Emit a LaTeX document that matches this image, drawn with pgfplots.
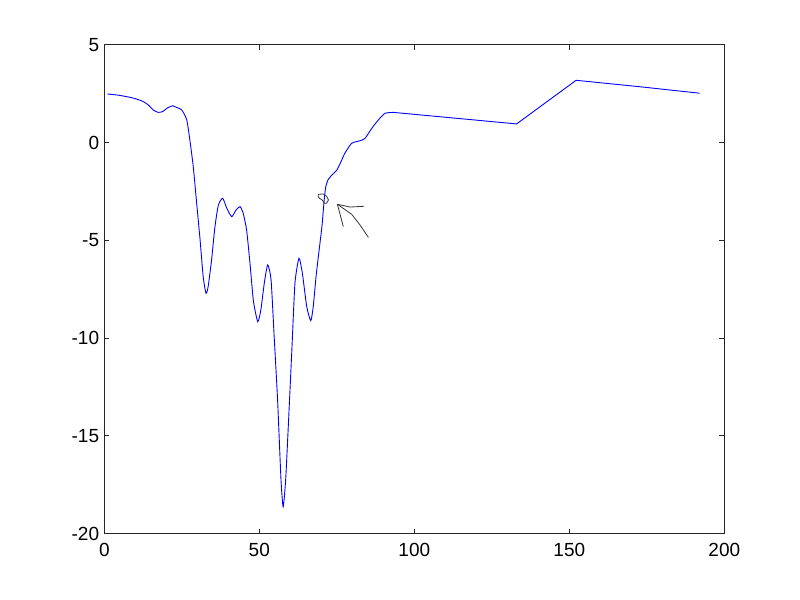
\documentclass[border=0pt]{standalone}
\usepackage{fontspec}
\setmainfont{Liberation Sans}
\usepackage{pgfplots}
\pgfplotsset{compat=1.18}
\usetikzlibrary{calc}

\begin{document}
\begin{tikzpicture}
\begin{axis}[
  scale only axis,
  width=620bp, height=489bp,
  xmin=0, xmax=200, ymin=-20, ymax=5,
  xtick={0,50,100,150,200},
  xticklabels={0,50,100,150,200},
  ytick={-20,-15,-10,-5,0,5},
  yticklabels={-20,-15,-10,-5,0,5},
  tick align=inside,
  major tick length=5bp,
  axis line style={black!85, line width=0.8bp},
  tick style={black!85, line width=0.8bp},
  ticklabel style={font=\fontsize{19bp}{22bp}\selectfont, inner sep=0pt},
  yticklabel style={xshift=-5bp},
  xticklabel style={yshift=-9bp},
]

% measured curve, wavy part
\addplot[color=blue, line width=0.9bp, smooth, tension=0.35] coordinates {
  (1.0,2.48) (4.5,2.42) (8.3,2.31) (10.8,2.20) (12.6,2.09) (14.2,1.92)
  (15.8,1.66) (17.4,1.54) (18.8,1.58) (20.5,1.78) (22.1,1.88) (22.8,1.83)
  (25.0,1.66) (26.6,1.15) (27.6,0.13) (28.7,-1.24) (29.8,-3.11) (30.9,-4.98)
  (31.9,-6.86) (32.8,-7.71) (33.5,-7.37) (34.6,-6.01) (35.7,-4.30)
  (36.8,-3.20) (38.2,-2.85) (39.5,-3.36) (41.1,-3.79) (42.5,-3.45)
  (43.8,-3.28) (44.8,-3.62) (45.9,-4.47) (47.0,-6.18) (48.1,-8.10)
  (49.5,-9.16) (50.5,-8.56) (51.6,-7.20) (52.7,-6.26) (53.8,-7.03)
  (54.8,-9.93) (55.9,-13.16) (57.0,-17.25) (57.7,-18.62) (58.5,-17.25)
  (59.4,-14.36) (60.5,-10.61) (61.5,-7.20) (62.8,-5.92) (63.9,-6.69)
  (65.3,-8.39) (66.6,-9.11) (67.4,-8.39) (68.3,-6.86) (69.3,-5.50)
  (70.2,-4.30) (70.9,-3.00) (71.4,-2.30) (72.2,-1.90) (73.5,-1.65)
  (75.0,-1.41) (76.3,-1.00) (77.6,-0.55) (79.8,-0.04) (82.5,0.09)
  (84.1,0.21) (86.3,0.73) (88.4,1.15) (90.5,1.49) (93.2,1.54)
};
% measured curve, straight part
\addplot[color=blue, line width=0.9bp] coordinates {
  (93.2,1.54) (133.0,0.95) (152.2,3.18) (172.8,2.85) (192.0,2.52)
};

% hand-drawn loop
\addplot[color=black!80, line width=0.8bp] coordinates {
  (69.0,-2.65) (70.6,-2.63) (71.7,-2.74) (72.3,-2.94) (71.7,-3.11)
  (71.0,-3.11) (70.3,-2.94) (69.4,-2.85) (69.0,-2.77) (69.0,-2.65)
};

% hand-drawn arrow
\addplot[color=black!80, line width=0.8bp] coordinates {
  (83.8,-3.26) (79.3,-3.30) (75.2,-3.16) (77.1,-4.30)
};
\addplot[color=black!80, line width=0.8bp] coordinates {
  (75.2,-3.16) (79.8,-3.67) (82.5,-4.22) (85.2,-4.85)
};

\end{axis}
\path[use as bounding box]
  ($(current axis.south west)+(-104.3bp,-66.3bp)$)
  rectangle ($(current axis.north east)+(75.7bp,44.7bp)$);
\end{tikzpicture}
\end{document}
